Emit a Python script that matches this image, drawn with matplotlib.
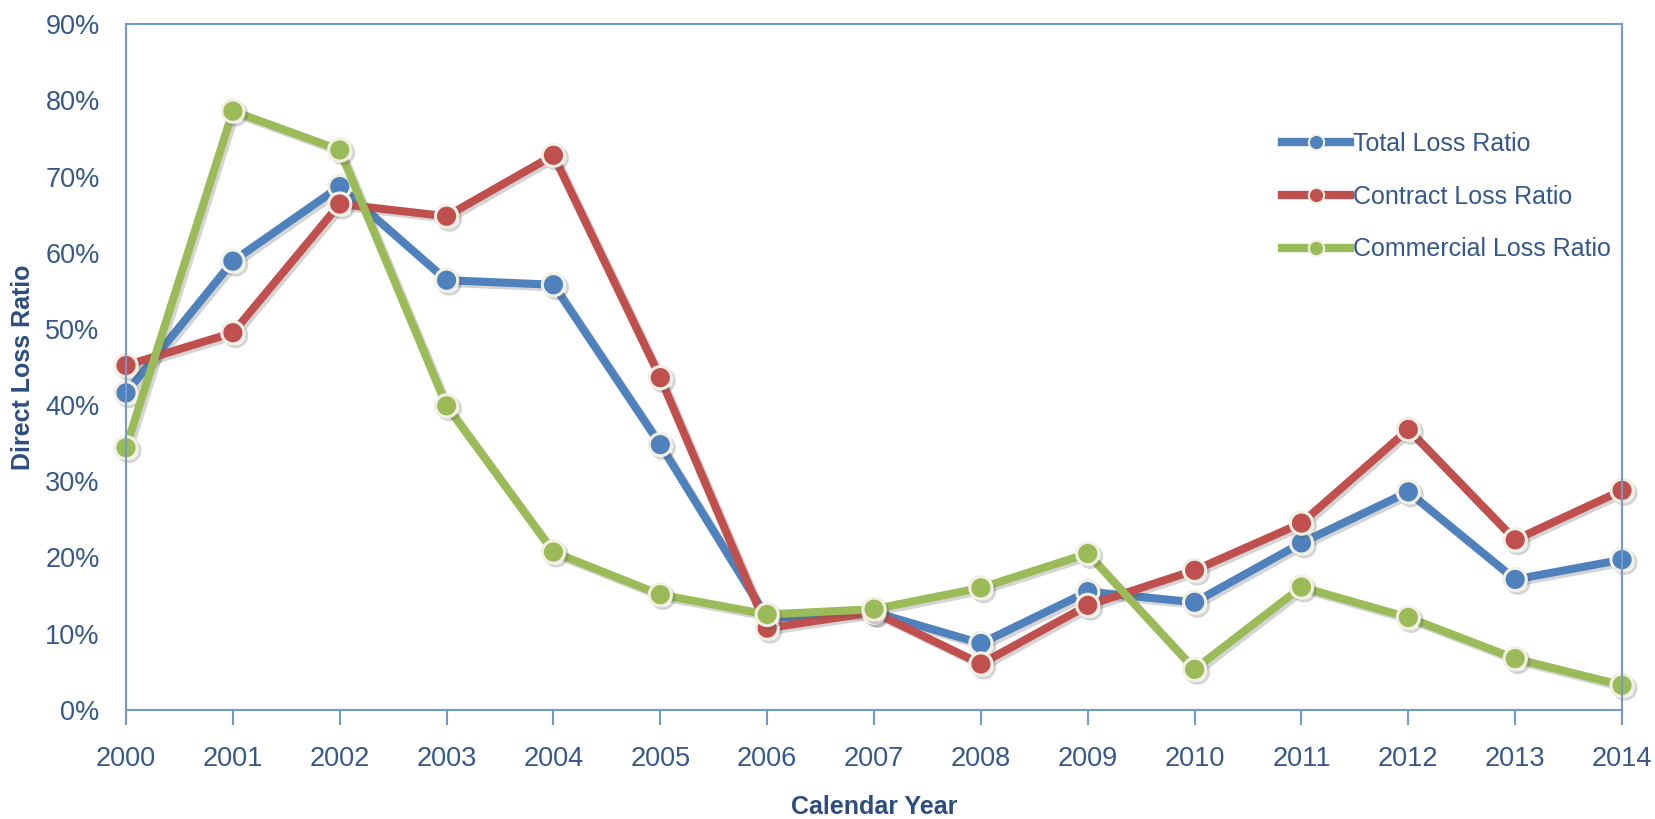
import matplotlib
matplotlib.use("Agg")
import matplotlib.pyplot as plt
import matplotlib.patheffects as pe
from matplotlib.ticker import FuncFormatter

# Loss ratios by calendar year (percent)
years = list(range(2000, 2015))
total_loss = [41.6, 58.9, 68.7, 56.4, 55.8, 34.8, 12.0, 12.8, 8.7, 15.5, 14.1, 21.9, 28.6, 17.1, 19.7]
contract_loss = [45.2, 49.5, 66.4, 64.8, 72.8, 43.6, 10.7, 12.8, 6.0, 13.7, 18.3, 24.5, 36.8, 22.3, 28.8]
commercial_loss = [34.4, 78.6, 73.5, 39.9, 20.7, 15.1, 12.5, 13.2, 16.0, 20.5, 5.3, 16.1, 12.1, 6.7, 3.2]

series_names = ["Total Loss Ratio", "Contract Loss Ratio", "Commercial Loss Ratio"]
series_colors = ["#4F81BD", "#C0504D", "#9BBB59"]

plt.rcParams["font.family"] = ["Liberation Sans", "DejaVu Sans"]

text_color = "#35588A"
title_color = "#2C4D7E"
spine_color = "#7099D0"

fig = plt.figure(figsize=(16.56, 8.19), dpi=100)
ax = fig.add_axes([0.0761, 0.1335, 0.9034, 0.8368])

shadow = [pe.SimpleLineShadow(offset=(2, -2), alpha=0.25, shadow_color="#555555"), pe.Normal()]

for vals, name, col in zip([total_loss, contract_loss, commercial_loss], series_names, series_colors):
    ax.plot(years, vals, color=col, lw=5.8, marker="o", ms=16, mfc=col, mec="#F2F0E4",
            mew=2.2, label=name, clip_on=False, path_effects=shadow, solid_capstyle="round")

ax.set_xlim(2000, 2014)
ax.set_ylim(0, 90)
ax.set_xticks(years)
ax.set_yticks(range(0, 91, 10))
ax.yaxis.set_major_formatter(FuncFormatter(lambda v, p: f"{int(v)}%"))

for s in ax.spines.values():
    s.set_color(spine_color)
    s.set_linewidth(1.5)

ax.tick_params(axis="x", direction="out", length=11, width=1.5, color=spine_color,
               labelsize=19.5, labelcolor=text_color, pad=15)
ax.tick_params(axis="y", length=0, labelsize=19.5, labelcolor=text_color, pad=19)

ax.set_xlabel("Calendar Year", fontsize=18, fontweight="bold", color=title_color)
ax.set_ylabel("Direct Loss Ratio", fontsize=18, fontweight="bold", color=title_color)
ax.xaxis.set_label_coords(0.5, -0.124)
ax.yaxis.set_label_coords(-0.061, 0.5)

leg_handles = []
for name, col in zip(series_names, series_colors):
    h, = plt.plot([], [], color=col, lw=6, marker="o", ms=11, mfc=col, mec="#F2F0E4", mew=1.5)
    leg_handles.append(h)
leg = ax.legend(leg_handles, series_names, loc="upper left", bbox_to_anchor=(0.773, 0.843),
                frameon=False, fontsize=18, handlelength=2.7, handletextpad=0.12,
                labelspacing=1.15, borderpad=0, borderaxespad=0)
for t in leg.get_texts():
    t.set_color(text_color)

fig.savefig("out.png", dpi=100)
